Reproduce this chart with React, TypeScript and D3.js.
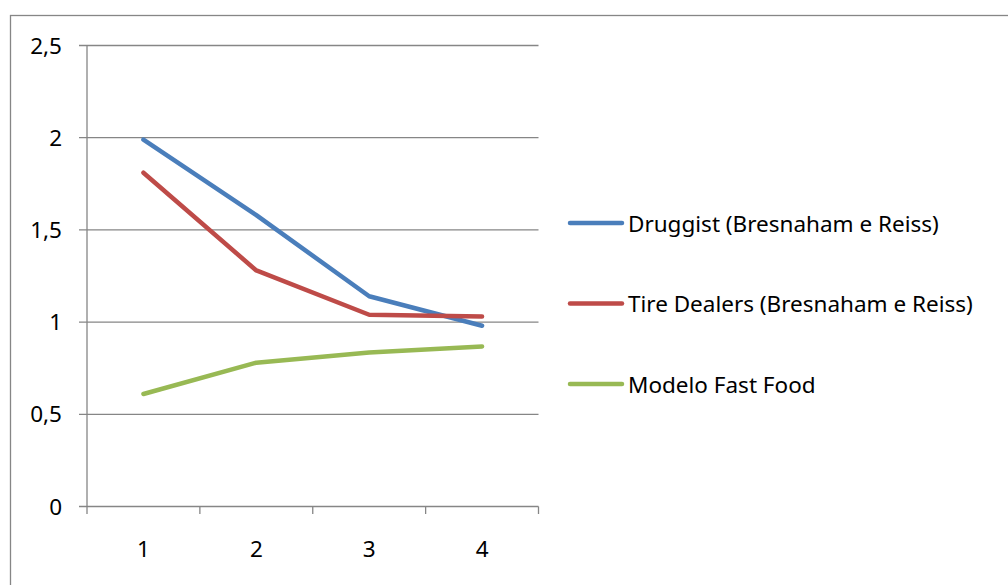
import React from "react";
import * as d3 from "d3";

const categories = ["1", "2", "3", "4"];
const druggist = [1.99, 1.58, 1.14, 0.98];
const tireDealers = [1.81, 1.28, 1.04, 1.03];
const fastFood = [0.61, 0.78, 0.835, 0.868];
const yTicks = [0, 0.5, 1, 1.5, 2, 2.5];
const seriesNames = [
  "Druggist (Bresnaham e Reiss)",
  "Tire Dealers (Bresnaham e Reiss)",
  "Modelo Fast Food",
];
const seriesColors = ["#4a7ebb", "#be4b48", "#98b954"];

const W = 1008;
const H = 585;
const FONT = "'Noto Sans', 'Open Sans', sans-serif";
const FS = 22.5;

export default function App() {
  const x = d3.scaleBand<string>().domain(categories).range([87, 538.5]).padding(0);
  const y = d3.scaleLinear().domain([0, 2.5]).range([506.5, 45.5]);
  const seriesData = [druggist, tireDealers, fastFood];
  const line = d3
    .line<number>()
    .x((_, i) => (x(categories[i]) as number) + x.bandwidth() / 2)
    .y((d) => y(d));

  const legendY = [223, 303.5, 384];
  const tickXs = categories.map((c) => x(c) as number).concat([538.5]);

  return (
    <div style={{ position: "absolute", left: 0, top: 0 }}>
      <svg width={W} height={H} style={{ display: "block", background: "#fff" }}>
        <rect x={10.5} y={15.5} width={1100} height={700} fill="#fff" stroke="#868686" strokeWidth={1.3} />
        {yTicks.map((t) => (
          <g key={t}>
            <line x1={79} x2={538.5} y1={y(t)} y2={y(t)} stroke="#868686" strokeWidth={1.3} />
            <text
              x={62}
              y={y(t) + 8}
              textAnchor="end"
              fontFamily={FONT}
              fontSize={FS}
              fill="#000"
            >
              {String(t).replace(".", ",")}
            </text>
          </g>
        ))}
        <line x1={87} x2={87} y1={45.5} y2={506.5} stroke="#868686" strokeWidth={1.3} />
        {tickXs.map((tx, i) => (
          <line key={i} x1={tx} x2={tx} y1={506.5} y2={514} stroke="#868686" strokeWidth={1.3} />
        ))}
        {categories.map((c) => (
          <text
            key={c}
            x={(x(c) as number) + x.bandwidth() / 2}
            y={557}
            textAnchor="middle"
            fontFamily={FONT}
            fontSize={FS}
            fill="#000"
          >
            {c}
          </text>
        ))}
        {seriesData.map((s, i) => (
          <path
            key={i}
            d={line(s) as string}
            fill="none"
            stroke={seriesColors[i]}
            strokeWidth={4.5}
            strokeLinejoin="round"
            strokeLinecap="round"
          />
        ))}
        {seriesNames.map((n, i) => (
          <g key={n}>
            <line
              x1={570}
              x2={622}
              y1={legendY[i]}
              y2={legendY[i]}
              stroke={seriesColors[i]}
              strokeWidth={4.5}
              strokeLinecap="round"
            />
            <text x={628} y={legendY[i] + 8.5} fontFamily={FONT} fontSize={FS} fill="#000">
              {n}
            </text>
          </g>
        ))}
      </svg>
    </div>
  );
}
